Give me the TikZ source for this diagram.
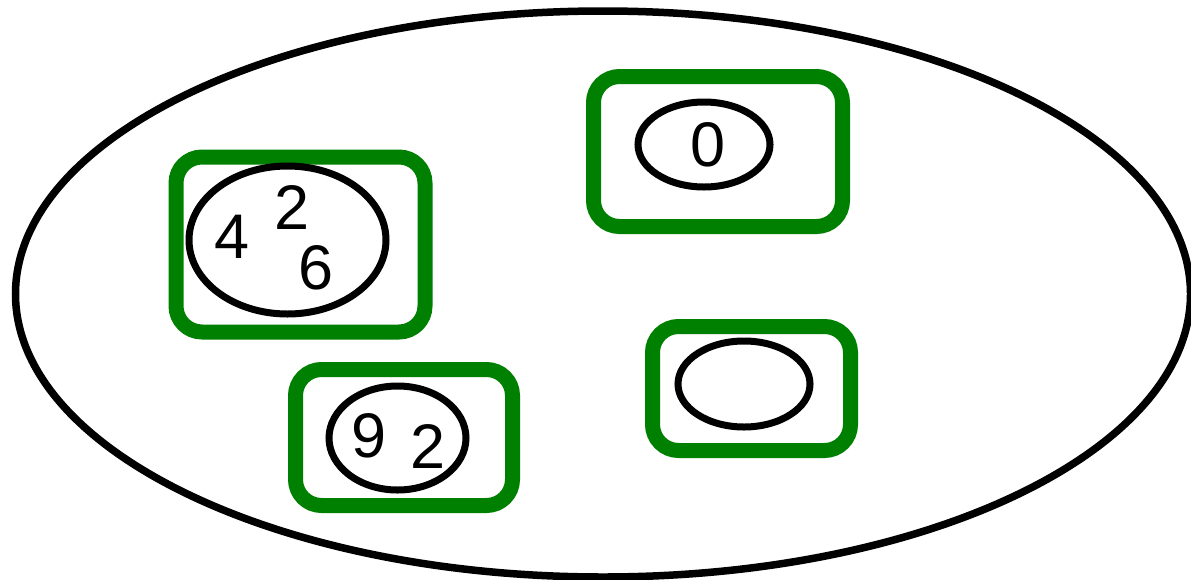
\documentclass[tikz,border=0pt]{standalone}
\usepackage{fontspec}
\setmainfont{Liberation Sans}
\usetikzlibrary{shapes.geometric}
\definecolor{grn}{RGB}{0,128,0}
\begin{document}
\begin{tikzpicture}[x=1pt,y=-1pt,
  group/.style={draw=grn, line width=15pt, rounded corners=26pt, rectangle, inner sep=0pt},
  setell/.style={draw=black, line width=7pt, ellipse, inner sep=0pt},
  num/.style={font=\fontsize{63}{63}\selectfont, inner sep=0pt}]
\useasboundingbox (0,0) rectangle (1191,579);
\node[draw=black, line width=7.5pt, ellipse, inner sep=0pt, minimum width=1175pt, minimum height=566pt] (U) at (603,294) {};
% groups
\node[group, minimum width=249pt, minimum height=175pt] (G1) at (300.5,244.5) {};
\node[group, minimum width=249pt, minimum height=150pt] (G2) at (718,151.5) {};
\node[group, minimum width=217pt, minimum height=136pt] (G3) at (404,437.5) {};
\node[group, minimum width=198pt, minimum height=124pt] (G4) at (751.5,388.5) {};
% inner sets
\node[setell, minimum width=197pt, minimum height=148pt] (E1) at (287.5,240) {};
\node[setell, minimum width=132pt, minimum height=85pt] (E2) at (704,144.5) {};
\node[setell, minimum width=137pt, minimum height=104pt] (E3) at (397.5,438) {};
\node[setell, minimum width=132pt, minimum height=86pt] (E4) at (744,384) {};
% numbers
\node[num] (n4) at (232.5,236.5) {4};
\node[num] (n2a) at (292,207.5) {2};
\node[num] (n6) at (316,268) {6};
\node[num] (n0) at (708,145) {0};
\node[num] (n9) at (369.5,436) {9};
\node[num] (n2b) at (428.5,446) {2};
\end{tikzpicture}
\end{document}
